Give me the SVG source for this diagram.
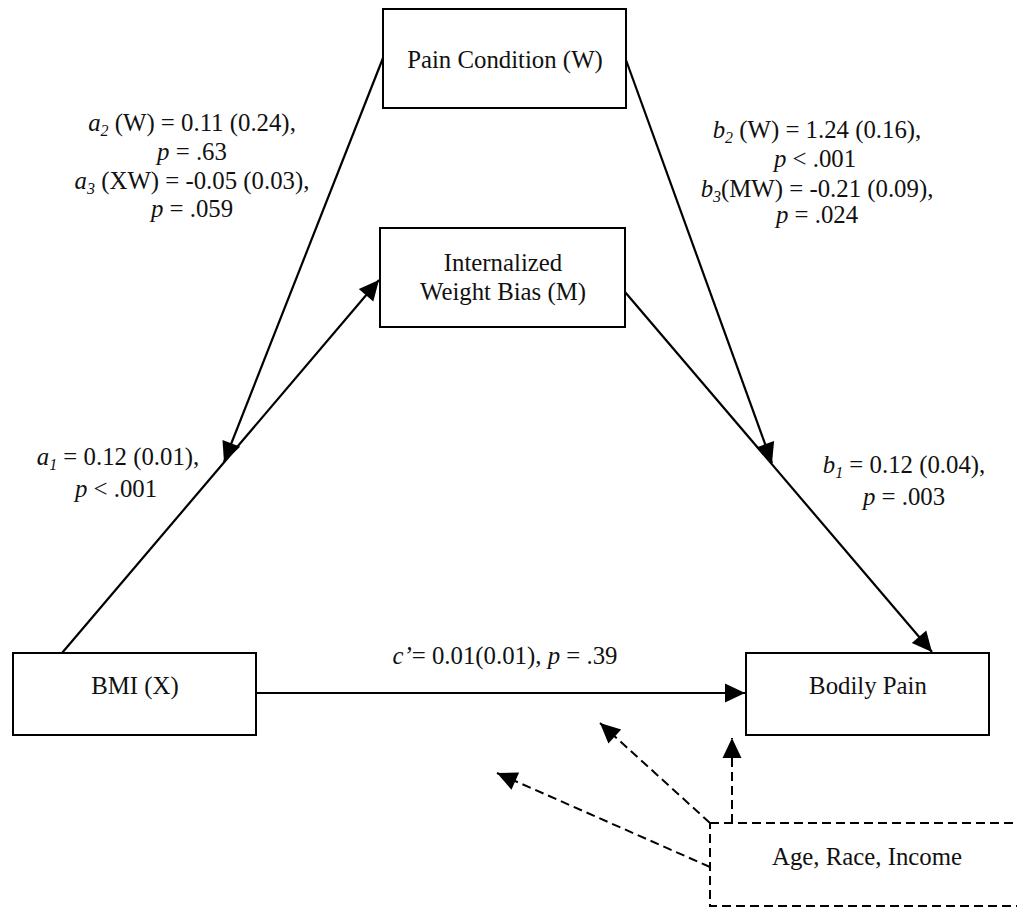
<svg xmlns="http://www.w3.org/2000/svg" width="1017" height="908" viewBox="0 0 1017 908">
<defs>
<marker id="ah" markerUnits="userSpaceOnUse" markerWidth="21" markerHeight="19" refX="20" refY="9.5" orient="auto" overflow="visible">
<path d="M0,0 L20,9.5 L0,19 Z" fill="#000"/>
</marker>
<style>
text{font-family:"Liberation Serif","Times New Roman",serif;font-size:24.8px;fill:#111;text-anchor:middle}
.i{font-style:italic}
.sub{font-size:16px;font-style:italic}
.box{fill:#fff;stroke:#000;stroke-width:2}
.dbox{fill:#fff;stroke:#000;stroke-width:2;stroke-dasharray:9 5}
.ln{stroke:#000;stroke-width:2.2;fill:none;marker-end:url(#ah)}
.dl{stroke:#000;stroke-width:2;fill:none;stroke-dasharray:9 5;marker-end:url(#ah)}
</style>
</defs>
<rect width="1017" height="908" fill="#fff"/>
<g id="connectors">
<line class="ln" x1="62" y1="653" x2="379" y2="280"/>
<line class="ln" x1="383" y1="58" x2="224" y2="462"/>
<line class="ln" x1="626" y1="60" x2="772" y2="463"/>
<line class="ln" x1="625" y1="292" x2="932" y2="652"/>
<line class="ln" x1="256" y1="693" x2="745" y2="693"/>
<line class="dl" x1="710" y1="823" x2="600" y2="723"/>
<line class="dl" x1="710" y1="867" x2="497" y2="773"/>
<line class="dl" x1="732" y1="823" x2="732" y2="738"/>
</g>
<g id="node-w">
<rect class="box" x="383" y="9" width="243" height="99"/>
<text x="505" y="68">Pain Condition (W)</text>
</g>
<g id="node-m">
<rect class="box" x="380" y="228" width="245" height="99"/>
<text x="503" y="271">Internalized</text>
<text x="503" y="300">Weight Bias (M)</text>
</g>
<g id="node-x">
<rect class="box" x="13" y="653" width="243" height="82"/>
<text x="135" y="694">BMI (X)</text>
</g>
<g id="node-y">
<rect class="box" x="746" y="653" width="243" height="82"/>
<text x="868" y="694">Bodily Pain</text>
</g>
<g id="node-cov">
<rect class="dbox" x="710" y="823" width="340" height="83"/>
<text x="867" y="865">Age, Race, Income</text>
</g>
<g id="labels">
<text x="192" y="131"><tspan class="i">a</tspan><tspan class="sub" dy="5">2</tspan><tspan dy="-5"> (W) = 0.11 (0.24),</tspan></text>
<text x="192" y="160"><tspan class="i">p</tspan> = .63</text>
<text x="192" y="189"><tspan class="i">a</tspan><tspan class="sub" dy="5">3</tspan><tspan dy="-5"> (XW) = -0.05 (0.03),</tspan></text>
<text x="192" y="217"><tspan class="i">p</tspan> = .059</text>
<text x="817" y="138"><tspan class="i">b</tspan><tspan class="sub" dy="5">2</tspan><tspan dy="-5"> (W) = 1.24 (0.16),</tspan></text>
<text x="815" y="167"><tspan class="i">p</tspan> &lt; .001</text>
<text x="817" y="197"><tspan class="i">b</tspan><tspan class="sub" dy="5">3</tspan><tspan dy="-5">(MW) = -0.21 (0.09),</tspan></text>
<text x="817" y="223"><tspan class="i">p</tspan> = .024</text>
<text x="118" y="465"><tspan class="i">a</tspan><tspan class="sub" dy="5">1</tspan><tspan dy="-5"> = 0.12 (0.01),</tspan></text>
<text x="116" y="497"><tspan class="i">p</tspan> &lt; .001</text>
<text x="904" y="473"><tspan class="i">b</tspan><tspan class="sub" dy="5">1</tspan><tspan dy="-5"> = 0.12 (0.04),</tspan></text>
<text x="904" y="505"><tspan class="i">p</tspan> = .003</text>
<text x="505" y="664"><tspan class="i">c’</tspan>= 0.01(0.01), <tspan class="i">p</tspan> = .39</text>
</g>
</svg>
